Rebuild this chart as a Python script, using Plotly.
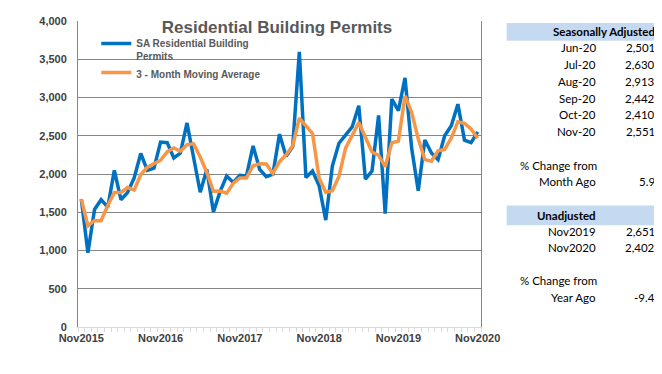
import plotly.graph_objects as go
import pandas as pd

# ---------------- data ----------------
months = pd.date_range("2015-11-01", "2020-11-01", freq="MS")
month_labels = [d.strftime("%b%Y") for d in months]

sa_permits = [1672, 970, 1536, 1664, 1566, 2047, 1664, 1757, 1949, 2268, 2047, 2077,
              2417, 2410, 2209, 2274, 2667, 2240, 1761, 2060, 1504, 1770, 1974, 1889,
              1983, 1974, 2368, 2060, 1966, 1996, 2521, 2231, 2359, 3598, 1953, 2038,
              1846, 1397, 2103, 2402, 2509, 2615, 2893, 1932, 2038, 2765, 1483, 2979,
              2829, 3256, 2339, 1782, 2444, 2274, 2188, 2501, 2630, 2913, 2442, 2410,
              2551]

moving_avg = [1672, 1321, 1393, 1390, 1589, 1759, 1759, 1823, 1790, 1991, 2088, 2131,
              2180, 2290, 2340, 2298, 2383, 2394, 2223, 2020, 1775, 1778, 1749, 1878,
              1949, 1949, 2108, 2134, 2131, 2007, 2161, 2249, 2370, 2729, 2637, 2530,
              1946, 1760, 1782, 1967, 2338, 2509, 2672, 2480, 2288, 2245, 2095, 2409,
              2430, 3021, 2808, 2459, 2188, 2167, 2302, 2321, 2470, 2681, 2662, 2588,
              2468]

year_ticks = ["Nov2015", "Nov2016", "Nov2017", "Nov2018", "Nov2019", "Nov2020"]

sa_table_months = ["Jun-20", "Jul-20", "Aug-20", "Sep-20", "Oct-20", "Nov-20"]
sa_table_values = [2501, 2630, 2913, 2442, 2410, 2551]
month_change = 5.9
unadj_months = ["Nov2019", "Nov2020"]
unadj_values = [2651, 2402]
year_change = -9.4

# ---------------- layout helpers (window pixel coordinates) ----------------
W, H = 662, 374
OFF = 8  # page body margin in the browser
PL, PR, PT, PB = 77.7, 481.3, 15.3, 327.0


def px(xp):
    return (xp - PL) / (PR - PL)


def py(yp):
    return (PB - yp) / (PB - PT)


x_idx = list(range(len(month_labels)))

fig = go.Figure()
fig.add_trace(go.Scatter(
    x=x_idx, y=sa_permits, mode="lines", name="SA Residential Building<br>Permits",
    line=dict(color="#0070C0", width=3.5),
))
fig.add_trace(go.Scatter(
    x=x_idx, y=moving_avg, mode="lines", name="3 - Month Moving Average",
    line=dict(color="#F79646", width=3.5),
))

axis_font = dict(family="Arial, Liberation Sans", size=11, color="#404040", weight="bold")

fig.update_layout(
    width=W - OFF, height=H - OFF,
    margin=dict(l=PL - OFF, r=W - PR, t=PT - OFF, b=H - PB, pad=0),
    paper_bgcolor="white", plot_bgcolor="white",
    showlegend=True,
    title=dict(text="Residential Building Permits", x=px(277), xref="paper", xanchor="center",
               y=1 - (27 - OFF) / (H - OFF), yref="container", yanchor="middle",
               font=dict(family="Arial, Liberation Sans", size=17, color="#595959", weight="bold")),
    legend=dict(x=px(96), y=py(25), xanchor="left", yanchor="top",
                bgcolor="rgba(0,0,0,0)", borderwidth=0, valign="top",
                itemwidth=30, tracegroupgap=0,
                font=dict(family="Arial, Liberation Sans", size=10, color="#595959", weight="bold")),
    xaxis=dict(
        range=[-0.5, len(x_idx) - 0.5],
        tickvals=[month_labels.index(t) for t in year_ticks],
        ticktext=year_ticks,
        ticks="", showgrid=False, zeroline=False,
        showline=True, linecolor="#D9D9D9", linewidth=1,
        tickfont=axis_font, ticklabelstandoff=1,
        minor=dict(tick0=-0.5, dtick=1, ticks="outside", ticklen=4,
                   tickcolor="#D9D9D9", tickwidth=1, showgrid=False),
    ),
    yaxis=dict(
        range=[0, 4000], dtick=500, tickformat=",",
        showgrid=True, gridcolor="#868686", gridwidth=1,
        zeroline=False, showline=True, linecolor="#868686", linewidth=1, mirror=True,
        ticks="", tickfont=axis_font, ticklabelstandoff=8,
    ),
)

# ---------------- right-hand table ----------------
table_font = dict(family="Lato, Open Sans, sans-serif", size=11.5, color="#000000")
bold_font = dict(table_font, weight="bold")
band_color = "#C5D9F1"
LABEL_R = 598
VALUE_R = 658


def add_text(text, xr, yc, font, anchor="right"):
    fig.add_annotation(text=text, x=px(xr), y=py(yc), xref="paper", yref="paper",
                       xanchor=anchor, yanchor="middle", showarrow=False, font=font)


fig.add_shape(type="rect", xref="paper", yref="paper",
              x0=px(507), x1=px(662), y0=py(35.3), y1=py(17.3),
              fillcolor=band_color, line=dict(width=0), layer="below")
add_text("Seasonally Adjusted", VALUE_R, 26, bold_font)
row_y = [42.7, 60, 77, 94, 111, 127.7]
for m, v, yc in zip(sa_table_months, sa_table_values, row_y):
    add_text(m, LABEL_R, yc, table_font)
    add_text(f"{v:,}", VALUE_R, yc, table_font)
add_text("% Change from", 518, 162, table_font, anchor="left")
add_text("Month Ago", LABEL_R, 179, table_font)
add_text(f"{month_change:.1f}", VALUE_R, 179, table_font)

fig.add_shape(type="rect", xref="paper", yref="paper",
              x0=px(507), x1=px(662), y0=py(223.3), y1=py(203.3),
              fillcolor=band_color, line=dict(width=0), layer="below")
add_text("Unadjusted", LABEL_R, 213, bold_font)
for m, v, yc in zip(unadj_months, unadj_values, [229.3, 246]):
    add_text(m, LABEL_R, yc, table_font)
    add_text(f"{v:,}", VALUE_R, yc, table_font)
add_text("% Change from", 518, 280, table_font, anchor="left")
add_text("Year Ago", LABEL_R, 297.3, table_font)
add_text(f"{year_change:.1f}", VALUE_R, 297.3, table_font)

fig.write_html("out.html")
